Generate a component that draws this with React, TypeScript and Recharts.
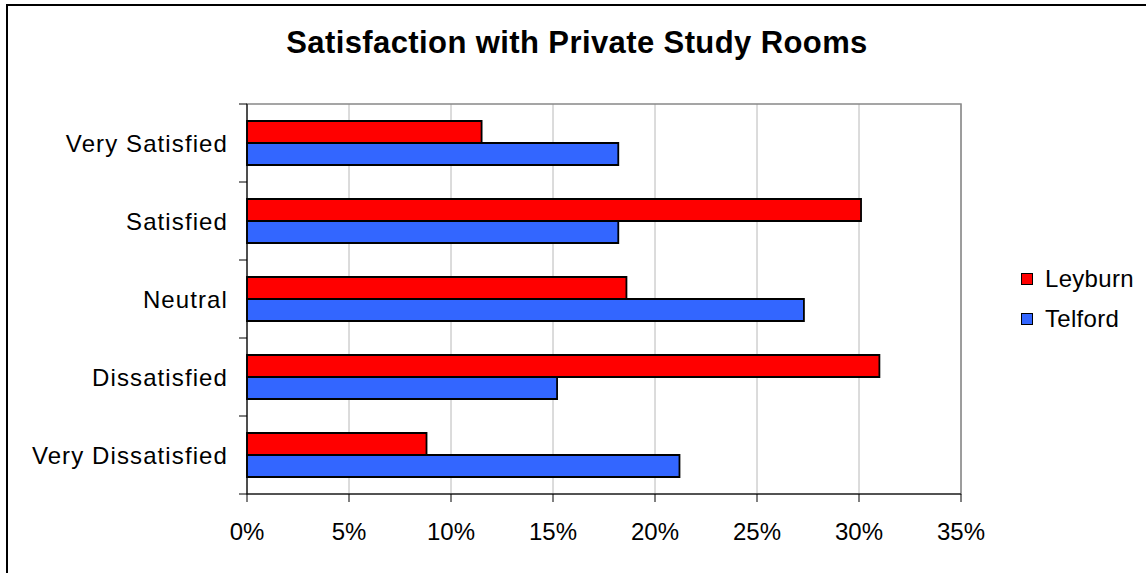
import React from "react";
import {
  BarChart,
  Bar,
  XAxis,
  YAxis,
  CartesianGrid,
  Legend,
  ReferenceArea,
} from "recharts";

const categories = [
  "Very Satisfied",
  "Satisfied",
  "Neutral",
  "Dissatisfied",
  "Very Dissatisfied",
];
const leyburn = [11.5, 30.1, 18.6, 31.0, 8.8];
const telford = [18.2, 18.2, 27.3, 15.2, 21.2];
const xTicks = [0, 5, 10, 15, 20, 25, 30, 35];
const seriesNames = ["Leyburn", "Telford"];
const seriesColors = ["#FF0000", "#3366FF"];
const title = "Satisfaction with Private Study Rooms";

const data = categories.map((name, i) => ({
  name,
  Leyburn: leyburn[i],
  Telford: telford[i],
}));

const FONT = '"Liberation Sans", Arial, Helvetica, sans-serif';
const W = 1146;
const H = 573;
const PLOT_TOP = 104;
const PLOT_BOTTOM = 494;
const PLOT_LEFT = 247;
const PLOT_RIGHT = 961;
const BAND = (PLOT_BOTTOM - PLOT_TOP) / categories.length;
const FS = 24;

const YTick = (props: any) => {
  const { x, y, payload, index } = props;
  return (
    <g>
      <line x1={x - 8} x2={x} y1={y - BAND / 2} y2={y - BAND / 2} stroke="#000" strokeWidth={1} />
      {index === categories.length - 1 && (
        <line x1={x - 8} x2={x} y1={y + BAND / 2} y2={y + BAND / 2} stroke="#000" strokeWidth={1} />
      )}
      <text
        x={x - 19}
        y={y}
        dy="0.355em"
        textAnchor="end"
        fill="#000"
        fontSize={FS}
        letterSpacing={1.1}
        fontFamily={FONT}
      >
        {payload.value}
      </text>
    </g>
  );
};

const LegendContent = () => (
  <div style={{ fontFamily: FONT }}>
    {seriesNames.map((n, i) => (
      <div
        key={n}
        style={{ display: "flex", alignItems: "center", height: 40 }}
      >
        <div
          style={{
            width: 10,
            height: 10,
            background: seriesColors[i],
            border: "1px solid #000",
            marginRight: 12,
          }}
        />
        <span style={{ fontSize: FS, letterSpacing: 0.3, color: "#000" }}>{n}</span>
      </div>
    ))}
  </div>
);

export default function App() {
  return (
    <div
      style={{
        position: "absolute",
        left: 0,
        top: 0,
        width: W,
        height: H,
        background: "#fff",
        overflow: "hidden",
      }}
    >
      <div
        style={{
          position: "absolute",
          left: 6,
          top: 4,
          width: W + 20,
          height: H + 20,
          borderLeft: "2px solid #000",
          borderTop: "2px solid #000",
          boxSizing: "border-box",
        }}
      />
      <svg
        width={W}
        height={70}
        style={{ position: "absolute", left: 0, top: 0 }}
      >
        <text
          x={577}
          y={53}
          textAnchor="middle"
          fontFamily={FONT}
          fontWeight="bold"
          fontSize={31}
          letterSpacing={0.4}
          fill="#000"
        >
          {title}
        </text>
      </svg>
      <div style={{ position: "absolute", left: 0, top: 0 }}>
        <BarChart
          width={W}
          height={H}
          data={data}
          layout="vertical"
          margin={{
            top: PLOT_TOP,
            right: W - PLOT_RIGHT,
            bottom: 49,
            left: 7,
          }}
          barGap={0}
          barSize={22}
        >
          <CartesianGrid
            horizontal={false}
            vertical={true}
            stroke="#b8b8b8"
            strokeWidth={1}
          />
          <ReferenceArea
            x1={0}
            x2={35}
            fill="none"
            fillOpacity={0}
            stroke="#888"
            strokeWidth={1.5}
            ifOverflow="visible"
          />
          <XAxis
            type="number"
            domain={[0, 35]}
            ticks={xTicks}
            interval={0}
            tickFormatter={(v: number) => `${v}%`}
            height={30}
            tickSize={8}
            tickMargin={21}
            axisLine={{ stroke: "#000", strokeWidth: 1 }}
            tickLine={{ stroke: "#000", strokeWidth: 1 }}
            tick={{
              fill: "#000",
              fontSize: FS,
              fontFamily: FONT,
            }}
          />
          <YAxis
            type="category"
            dataKey="name"
            width={PLOT_LEFT - 7}
            tickSize={0}
            tickMargin={0}
            tickLine={false}
            interval={0}
            axisLine={{ stroke: "#000", strokeWidth: 1 }}
            tick={<YTick />}
          />
          <Legend
            layout="vertical"
            align="center"
            verticalAlign="middle"
            content={<LegendContent />}
            wrapperStyle={{ left: 1021, top: 259, width: 125 }}
          />
          <Bar
            dataKey="Leyburn"
            name="Leyburn"
            fill={seriesColors[0]}
            stroke="#000"
            strokeWidth={1.8}
            isAnimationActive={false}
          />
          <Bar
            dataKey="Telford"
            name="Telford"
            fill={seriesColors[1]}
            stroke="#000"
            strokeWidth={1.8}
            isAnimationActive={false}
          />
        </BarChart>
      </div>
    </div>
  );
}
